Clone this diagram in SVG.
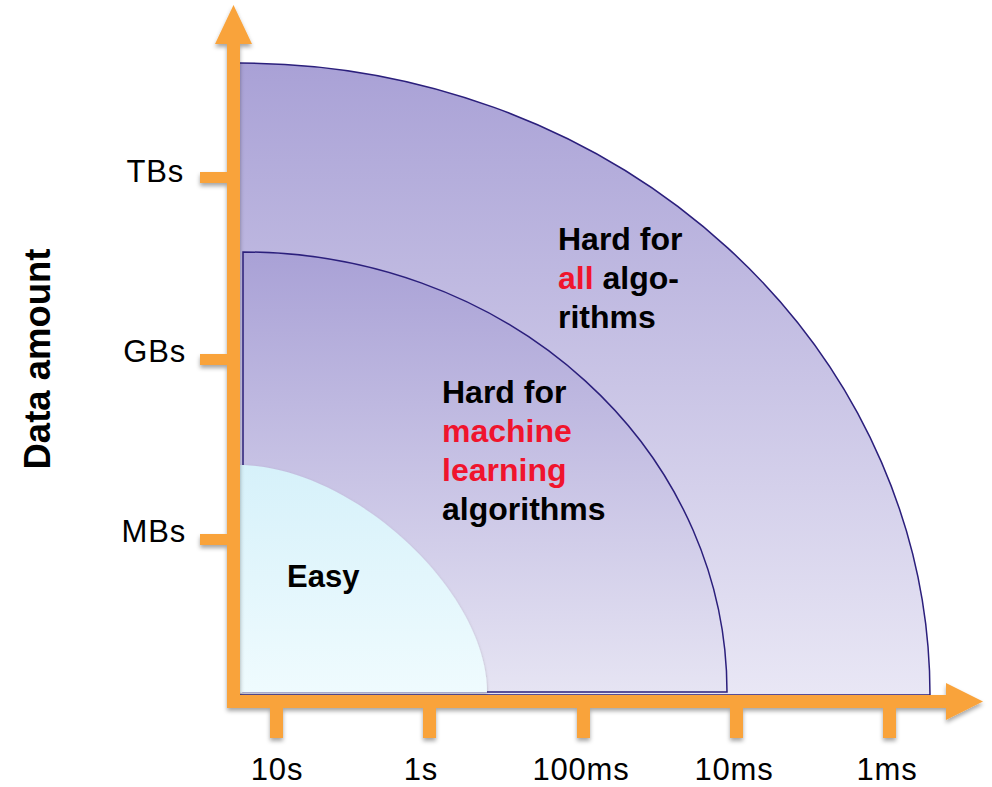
<svg xmlns="http://www.w3.org/2000/svg" width="992" height="787" viewBox="0 0 992 787">
  <defs>
    <linearGradient id="gradAll" gradientUnits="userSpaceOnUse" x1="0" y1="63" x2="0" y2="695">
      <stop offset="0" stop-color="#a9a1d6"/>
      <stop offset="1" stop-color="#e9e7f5"/>
    </linearGradient>
    <linearGradient id="gradMl" gradientUnits="userSpaceOnUse" x1="0" y1="252" x2="0" y2="692">
      <stop offset="0" stop-color="#a9a1d6"/>
      <stop offset="1" stop-color="#e6e4f3"/>
    </linearGradient>
    <linearGradient id="gradEasy" gradientUnits="userSpaceOnUse" x1="0" y1="465" x2="0" y2="691">
      <stop offset="0" stop-color="#d6f1fa"/>
      <stop offset="1" stop-color="#effbfe"/>
    </linearGradient>
    <filter id="shadow" x="-20%" y="-20%" width="140%" height="140%">
      <feDropShadow dx="0" dy="3" stdDeviation="2" flood-color="#000" flood-opacity="0.35"/>
    </filter>
    <filter id="softShadow" x="-10%" y="-10%" width="120%" height="120%">
      <feDropShadow dx="0" dy="1.5" stdDeviation="1.5" flood-color="#000" flood-opacity="0.25"/>
    </filter>
  </defs>
  <style>
    .region { stroke: #2b1f7c; stroke-width: 1.5; }
    .axis { fill: #f9a33b; }
    .tick { fill: #f9a33b; }
    .lbl { font-family: "Liberation Sans", Arial, sans-serif; font-size: 31px; letter-spacing: 0.8px; fill: #000; }
    .big { font-family: "Liberation Sans", Arial, sans-serif; font-size: 32px; font-weight: bold; fill: #000; }
    .red { fill: #f0142d; }
  </style>

  <!-- nested regions, outermost first -->
  <g id="region-all">
    <path class="region" fill="url(#gradAll)" d="M238,695 L238,63 L240,63 A690,632 0 0 1 930,695 Z"/>
  </g>
  <g id="region-ml">
    <path class="region" fill="url(#gradMl)" d="M243,692 L243,252 A484,440 0 0 1 727,692 Z"/>
  </g>
  <g id="region-easy">
    <path fill="url(#gradEasy)" filter="url(#softShadow)" d="M238,692.5 L238,465 C350,465 487,589 487,692.5 Z"/>
  </g>

  <!-- axes with arrowheads and ticks -->
  <g id="axes" filter="url(#shadow)">
    <rect class="axis" x="227" y="40" width="13" height="668"/>
    <polygon class="axis" points="233.5,5 252,44 215,44"/>
    <rect class="axis" x="227" y="695" width="722" height="13"/>
    <polygon class="axis" points="946,683 983,701.5 946,720"/>
    <rect class="tick" x="200" y="172" width="28" height="11"/>
    <rect class="tick" x="200" y="354" width="28" height="11"/>
    <rect class="tick" x="200" y="534" width="28" height="11"/>
    <rect class="tick" x="270" y="707" width="13" height="31"/>
    <rect class="tick" x="423" y="707" width="13" height="31"/>
    <rect class="tick" x="577" y="707" width="13" height="31"/>
    <rect class="tick" x="730" y="707" width="13" height="31"/>
    <rect class="tick" x="883" y="707" width="13" height="31"/>
  </g>

  <g id="y-labels">
    <text class="lbl" x="184" y="182" text-anchor="end">TBs</text>
    <text class="lbl" x="186" y="362" text-anchor="end">GBs</text>
    <text class="lbl" x="186" y="542" text-anchor="end">MBs</text>
    <text class="big" style="font-size:36.5px" x="50" y="359" text-anchor="middle" transform="rotate(-90 50 359)">Data amount</text>
  </g>

  <g id="x-labels">
    <text class="lbl" x="277" y="780" text-anchor="middle">10s</text>
    <text class="lbl" x="421" y="780" text-anchor="middle">1s</text>
    <text class="lbl" x="581" y="780" text-anchor="middle">100ms</text>
    <text class="lbl" x="734" y="780" text-anchor="middle">10ms</text>
    <text class="lbl" x="887" y="780" text-anchor="middle">1ms</text>
  </g>

  <g id="region-labels">
    <text class="big" x="558" y="250">Hard for</text>
    <text class="big" x="558" y="289"><tspan class="red">all</tspan> algo-</text>
    <text class="big" x="558" y="328">rithms</text>

    <text class="big" x="442" y="403">Hard for</text>
    <text class="big red" x="442" y="442">machine</text>
    <text class="big red" x="442" y="481">learning</text>
    <text class="big" x="442" y="520">algorithms</text>

    <text class="big" style="font-size:31px" x="287" y="587">Easy</text>
  </g>
</svg>
